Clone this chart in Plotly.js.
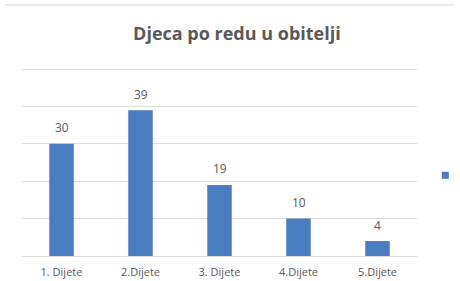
<!DOCTYPE html>
<html>
<head>
<meta charset="utf-8">
<script src="https://cdn.plot.ly/plotly-3.0.1.min.js"></script>
<style>
html,body{margin:0;padding:0;background:#fff;}
#chart{position:absolute;left:0;top:0;width:460px;height:281px;}
#topline{position:absolute;left:5px;top:4px;width:450px;height:2px;background:#ececec;z-index:5;}
</style>
</head>
<body>
<div id="chart"></div>
<div id="topline"></div>
<script>
const categories = ["1. Dijete", "2.Dijete", "3. Dijete", "4.Dijete", "5.Dijete"];
const values = [30, 39, 19, 10, 4];
const yTicks = [0, 10, 20, 30, 40, 50];

const FONT = "Open Sans, Liberation Sans, sans-serif";
const GRAY = "#595959";

const barTrace = {
  type: "bar",
  x: categories,
  y: values,
  width: 0.31,
  marker: {color: "#4a7dc0"},
  showlegend: false,
  hoverinfo: "none"
};
const legendTrace = {
  type: "scatter",
  mode: "markers",
  x: [null],
  y: [null],
  name: " ",
  marker: {symbol: "square", size: 7, color: "#4a7dc0"},
  showlegend: true
};

const labelAnnotations = categories.map((c, i) => ({
  x: c,
  y: values[i],
  xref: "x",
  yref: "y",
  text: String(values[i]),
  showarrow: false,
  yanchor: "middle",
  yshift: 16,
  font: {family: FONT, size: 12, color: GRAY}
}));

const layout = {
  width: 460,
  height: 281,
  margin: {l: 22, r: 43, t: 68, b: 25, autoexpand: false},
  paper_bgcolor: "#ffffff",
  plot_bgcolor: "#ffffff",
  title: {
    text: "<b>Djeca po redu u obitelji</b>",
    font: {family: FONT, size: 18, color: GRAY},
    x: 0.515, xanchor: "center",
    y: 0.88, yanchor: "middle"
  },
  xaxis: {
    type: "category",
    showgrid: false,
    zeroline: false,
    showline: false,
    ticks: "outside",
    ticklen: 6,
    tickcolor: "rgba(0,0,0,0)",
    tickfont: {family: FONT, size: 11, color: GRAY}
  },
  yaxis: {
    range: [0, 50.3],
    tickvals: yTicks,
    showticklabels: false,
    showgrid: true,
    gridcolor: "#dedede",
    gridwidth: 1,
    zeroline: true,
    zerolinecolor: "#dedede",
    zerolinewidth: 1,
    showline: false
  },
  annotations: labelAnnotations,
  showlegend: true,
  legend: {
    x: 1.021, xanchor: "left",
    y: 0.43, yanchor: "middle",
    itemwidth: 30,
    font: {size: 10, color: GRAY},
    bgcolor: "rgba(0,0,0,0)"
  },
  bargap: 0.69
};

Plotly.newPlot("chart", [barTrace, legendTrace], layout, {displayModeBar: false, staticPlot: true});
</script>
</body>
</html>
